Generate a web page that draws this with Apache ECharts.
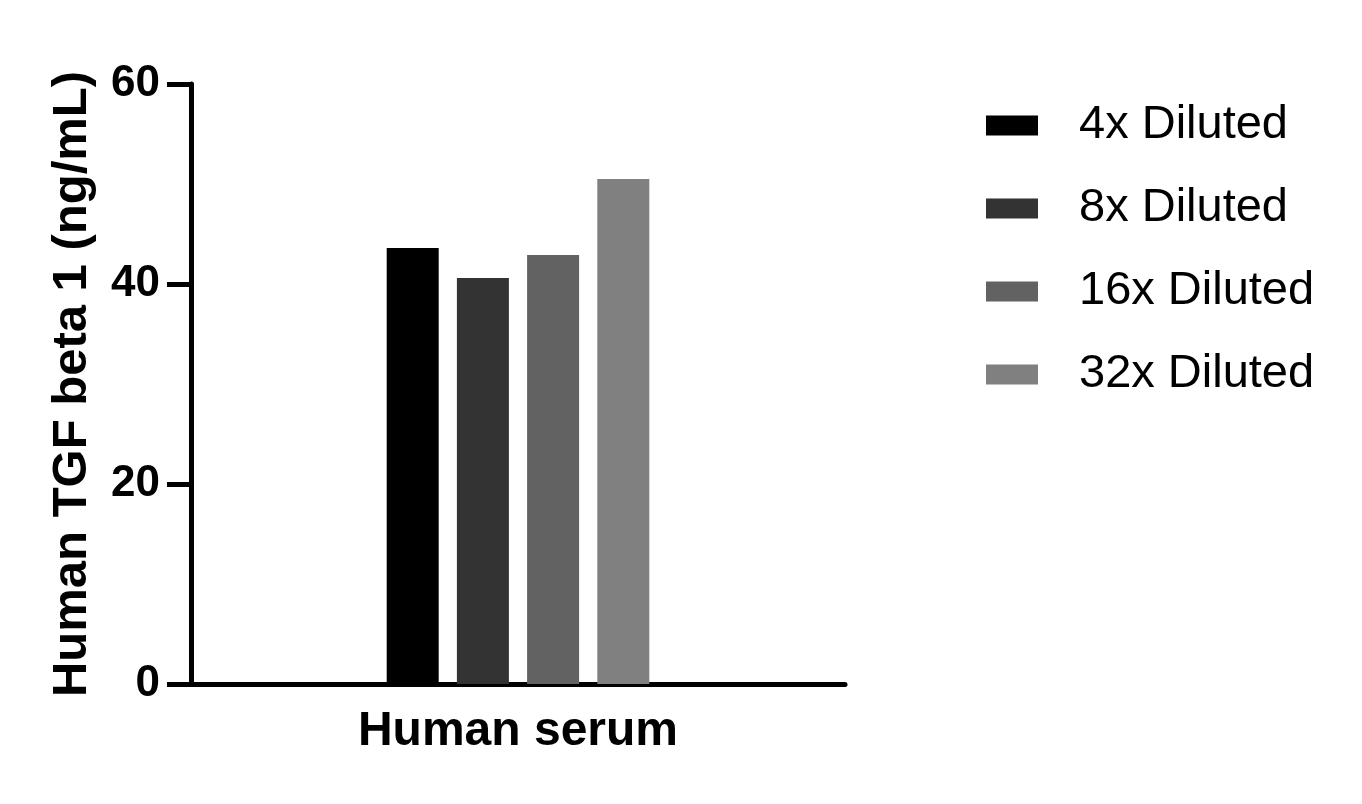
<!DOCTYPE html>
<html>
<head>
<meta charset="utf-8">
<script src="https://cdn.jsdelivr.net/npm/echarts@6/dist/echarts.min.js"></script>
<style>html,body{margin:0;padding:0;background:#fff}#c{width:1362px;height:804px}</style>
</head>
<body>
<div id="c"></div>
<script>
const categories = ['Human serum'];
const seriesNames = ['4x Diluted', '8x Diluted', '16x Diluted', '32x Diluted'];
const values4x = [43.6];
const values8x = [40.6];
const values16x = [42.9];
const values32x = [50.5];
const yTicks = [0, 20, 40, 60];
const colors = ['#000000', '#333333', '#626262', '#808080'];

const seriesData = [values4x, values8x, values16x, values32x];
const FONT = 'Liberation Sans, Arial, sans-serif';

const chart = echarts.init(document.getElementById('c'), null, {renderer: 'canvas'});
chart.setOption({
  animation: false,
  backgroundColor: '#ffffff',
  grid: {left: 191, right: 517, top: 84, bottom: 120, containLabel: false},
  legend: {
    orient: 'vertical',
    left: 986,
    top: 102,
    padding: 0,
    itemWidth: 52,
    itemHeight: 20,
    itemGap: 36,
    icon: 'rect',
    data: seriesNames,
    textStyle: {fontFamily: FONT, fontSize: 47, color: '#000', lineHeight: 45, padding: [0, 0, 0, 36]}
  },
  xAxis: {
    type: 'category',
    data: categories,
    axisLine: {lineStyle: {color: '#000', width: 5}},
    axisTick: {show: false},
    axisLabel: {fontFamily: FONT, fontSize: 48, fontWeight: 'bold', color: '#000', margin: 24}
  },
  yAxis: {
    type: 'value',
    min: yTicks[0],
    max: yTicks[yTicks.length - 1],
    interval: yTicks[1] - yTicks[0],
    name: 'Human TGF beta 1 (ng/mL)',
    nameLocation: 'middle',
    nameRotate: 90,
    nameGap: 94,
    nameTextStyle: {fontFamily: FONT, fontSize: 49, fontWeight: 'bold', color: '#000'},
    splitLine: {show: false},
    axisLine: {show: true, lineStyle: {color: '#000', width: 5}},
    axisTick: {show: true, length: 24, lineStyle: {color: '#000', width: 5}},
    axisLabel: {fontFamily: FONT, fontSize: 44, fontWeight: 'bold', color: '#000', margin: 31}
  },
  series: seriesNames.map((n, i) => ({
    name: n,
    type: 'bar',
    data: seriesData[i],
    barWidth: 52,
    barGap: '35%',
    itemStyle: {color: colors[i]}
  }))
});
</script>
</body>
</html>
